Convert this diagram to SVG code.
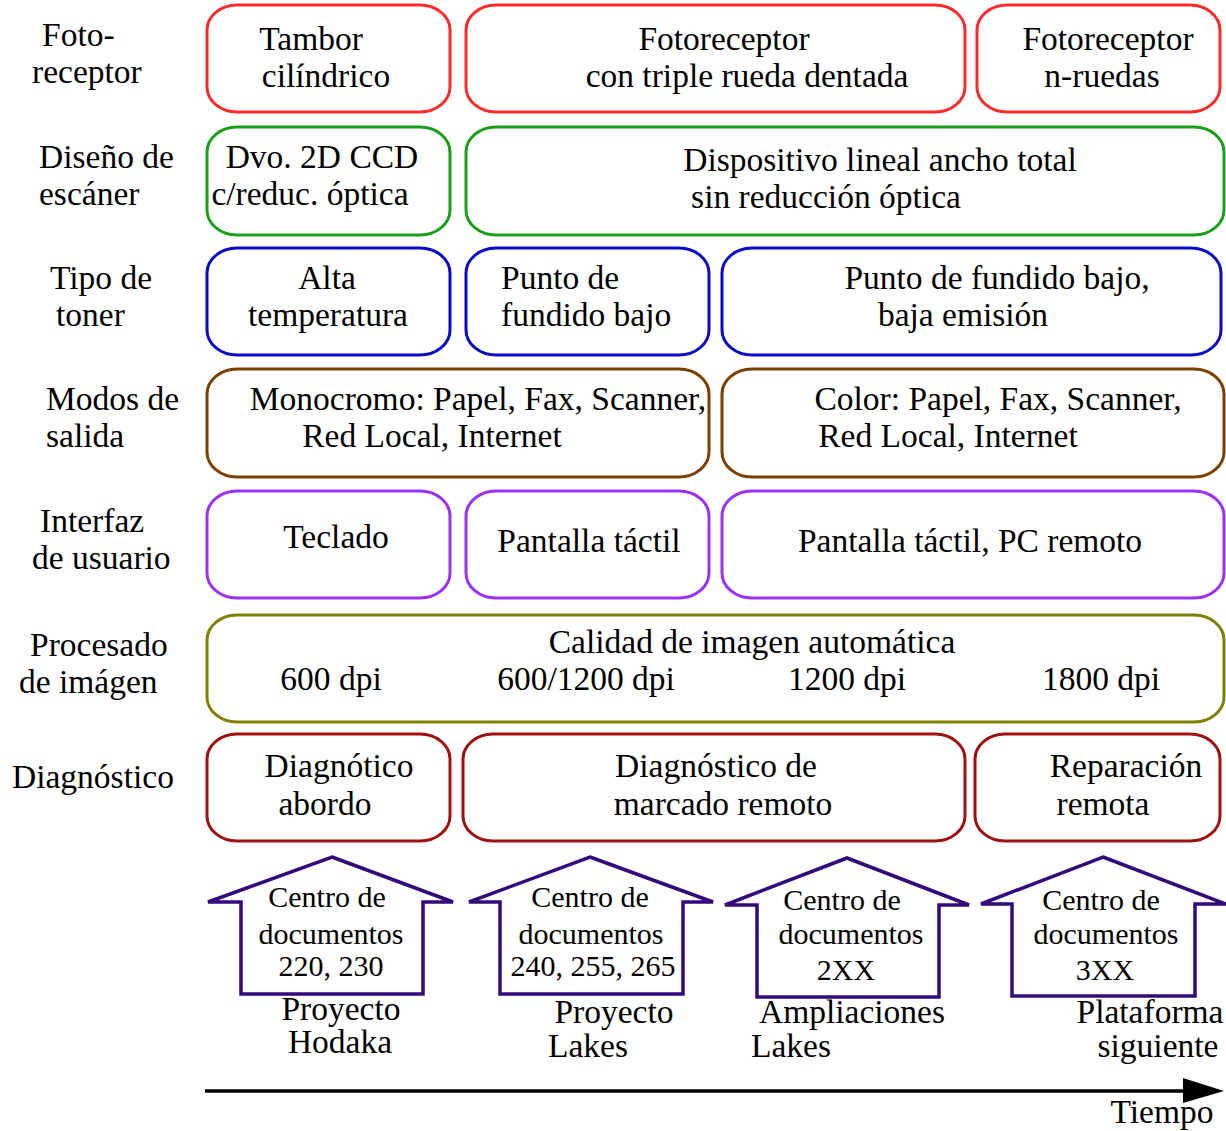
<svg xmlns="http://www.w3.org/2000/svg" width="1226" height="1131" viewBox="0 0 1226 1131">
<style>
text{font-family:"Liberation Serif","Times New Roman",serif;font-size:33.5px;fill:#000;text-anchor:middle}
.h{font-size:30px}
.s{text-anchor:start}
rect{fill:#fff;stroke-width:3}
.r{stroke:#ff2a2a}.g{stroke:#1a9f1a}.b{stroke:#0a0ac8}.br{stroke:#7b3f00}.p{stroke:#9a30ff}.o{stroke:#808000}.d{stroke:#a01010}
.house{fill:#fff;stroke:#330a7a;stroke-width:3.5}
</style>
<rect width="1226" height="1131" fill="#fff" style="stroke:none"/>
<g id="labels">
<text class="s" x="42" y="46">Foto-</text><text class="s" x="32" y="83">receptor</text>
<text class="s" x="39" y="168">Diseño de</text><text class="s" x="39" y="205">escáner</text>
<text class="s" x="50" y="289">Tipo de</text><text class="s" x="56" y="326">toner</text>
<text class="s" x="46" y="410">Modos de</text><text class="s" x="46" y="447">salida</text>
<text class="s" x="40" y="532">Interfaz</text><text class="s" x="32" y="569">de usuario</text>
<text class="s" x="30" y="656">Procesado</text><text class="s" x="19" y="693">de imágen</text>
<text class="s" x="12" y="788">Diagnóstico</text>
</g>
<g id="row1">
<g id="tambor"><rect class="r" x="207" y="5" width="243" height="107" rx="30" ry="25"/><text x="311" y="50">Tambor</text><text x="326" y="87">cilíndrico</text></g>
<g id="triple"><rect class="r" x="466" y="5" width="499" height="107" rx="30" ry="25"/><text x="724" y="50">Fotoreceptor</text><text x="747" y="87">con triple rueda dentada</text></g>
<g id="nruedas"><rect class="r" x="977" y="5" width="243" height="107" rx="30" ry="25"/><text x="1108" y="50">Fotoreceptor</text><text x="1102" y="87">n-ruedas</text></g>
</g>
<g id="row2">
<g id="ccd"><rect class="g" x="207" y="127" width="243" height="108" rx="30" ry="25"/><text x="322" y="168">Dvo. 2D CCD</text><text x="310" y="205">c/reduc. óptica</text></g>
<g id="lineal"><rect class="g" x="466" y="127" width="758" height="108" rx="30" ry="25"/><text x="880" y="171">Dispositivo lineal ancho total</text><text x="826" y="208">sin reducción óptica</text></g>
</g>
<g id="row3">
<g id="alta"><rect class="b" x="207" y="248" width="243" height="107" rx="30" ry="25"/><text x="327" y="289">Alta</text><text x="328" y="326">temperatura</text></g>
<g id="bajo"><rect class="b" x="466" y="248" width="243" height="107" rx="30" ry="25"/><text class="s" x="501" y="289">Punto de</text><text class="s" x="501" y="326">fundido bajo</text></g>
<g id="emision"><rect class="b" x="722" y="248" width="499" height="107" rx="30" ry="25"/><text x="997" y="289">Punto de fundido bajo,</text><text x="963" y="326">baja emisión</text></g>
</g>
<g id="row4">
<g id="mono"><rect class="br" x="207" y="369" width="502" height="108" rx="30" ry="25"/><text x="478" y="410">Monocromo: Papel, Fax, Scanner,</text><text x="432" y="447">Red Local, Internet</text></g>
<g id="color"><rect class="br" x="722" y="369" width="502" height="108" rx="30" ry="25"/><text x="998" y="410">Color: Papel, Fax, Scanner,</text><text x="948" y="447">Red Local, Internet</text></g>
</g>
<g id="row5">
<g id="teclado"><rect class="p" x="207" y="491" width="243" height="107" rx="30" ry="25"/><text x="336" y="548">Teclado</text></g>
<g id="pantalla"><rect class="p" x="466" y="491" width="243" height="107" rx="30" ry="25"/><text x="589" y="552">Pantalla táctil</text></g>
<g id="pc"><rect class="p" x="722" y="491" width="502" height="107" rx="30" ry="25"/><text x="970" y="552">Pantalla táctil, PC remoto</text></g>
</g>
<g id="row6">
<g id="calidad"><rect class="o" x="207" y="615" width="1017" height="107" rx="30" ry="25"/><text x="752" y="653">Calidad de imagen automática</text><text x="331" y="690">600 dpi</text><text x="586" y="690">600/1200 dpi</text><text x="847" y="690">1200 dpi</text><text x="1101" y="690">1800 dpi</text></g>
</g>
<g id="row7">
<g id="abordo"><rect class="d" x="207" y="734" width="243" height="107" rx="30" ry="25"/><text x="339" y="777">Diagnótico</text><text x="325" y="815">abordo</text></g>
<g id="remoto"><rect class="d" x="463" y="734" width="502" height="107" rx="30" ry="25"/><text x="716" y="777">Diagnóstico de</text><text x="723" y="815">marcado remoto</text></g>
<g id="reparacion"><rect class="d" x="975" y="734" width="245" height="107" rx="30" ry="25"/><text x="1126" y="777">Reparación</text><text x="1103" y="815">remota</text></g>
</g>
<g id="house1"><polygon class="house" points="332,857 453,902 423,902 423,994 241,994 241,902 208,902"/><text class="h" x="327" y="907">Centro de</text><text class="h" x="331" y="944">documentos</text><text class="h" x="331" y="976">220, 230</text><text x="341" y="1020">Proyecto</text><text x="340" y="1053">Hodaka</text></g>
<g id="house2"><polygon class="house" points="590,857 713,902 683,902 683,994 500,994 500,902 469,902"/><text class="h" x="590" y="907">Centro de</text><text class="h" x="591" y="944">documentos</text><text class="h" x="593" y="976">240, 255, 265</text><text x="614" y="1023">Proyecto</text><text x="588" y="1057">Lakes</text></g>
<g id="house3"><polygon class="house" points="847,858 969,905 939,905 939,997 757,997 757,905 725,905"/><text class="h" x="842" y="910">Centro de</text><text class="h" x="851" y="944">documentos</text><text class="h" x="846" y="980">2XX</text><text x="852" y="1023">Ampliaciones</text><text x="791" y="1057">Lakes</text></g>
<g id="house4"><polygon class="house" points="1103,857 1226,904 1195,904 1195,996 1012,996 1012,904 981,904"/><text class="h" x="1101" y="910">Centro de</text><text class="h" x="1106" y="944">documentos</text><text class="h" x="1105" y="980">3XX</text><text x="1150" y="1023">Plataforma</text><text x="1158" y="1057">siguiente</text></g>
<g id="connectors">
<line x1="205" y1="1091" x2="1186" y2="1091" stroke="#000" stroke-width="3.5"/>
<polygon points="1183,1078 1224,1091 1183,1103" fill="#000"/>
</g>
<text x="1162" y="1123">Tiempo</text>
</svg>
